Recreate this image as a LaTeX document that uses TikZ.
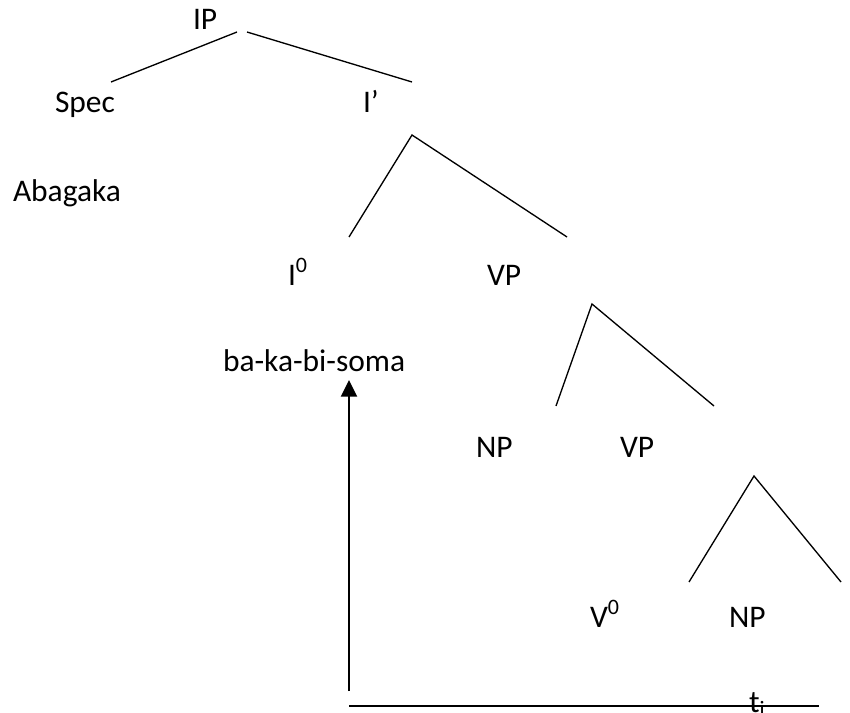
\documentclass[tikz,border=0pt]{standalone}
\usepackage{fontspec}
\setmainfont{Carlito}
\usetikzlibrary{arrows.meta}
\begin{document}
\begin{tikzpicture}[x=0.75pt,y=-0.75pt,
  lbl/.style={anchor=base west,inner sep=0pt,outer sep=0pt,font=\fontsize{23.6}{28}\selectfont},
  branch/.style={line width=1pt,line cap=butt,line join=miter},
  movearrow/.style={line width=1.5pt,-{Triangle[width=12pt,length=12.5pt]}}]
\useasboundingbox (0,0) rectangle (850,713);
% labels
\node[lbl] (ip) at (193,30) {IP};
\node[lbl] (spec) at (55,113) {Spec};
\node[lbl] (ibar) at (363,113) {I’};
\node[lbl] (abagaka) at (13,202) {Abagaka};
\node[lbl] (izero) at (288,285) {I\textsuperscript{0}};
\node[lbl] (vp1) at (487,285) {VP};
\node[lbl] (verb) at (223,371) {ba-ka-bi-soma};
\node[lbl] (np1) at (476,457) {NP};
\node[lbl] (vp2) at (620,457) {VP};
\node[lbl] (vzero) at (590,627) {V\textsuperscript{0}};
\node[lbl] (np2) at (729,627) {NP};
\node[lbl] (trace) at (749,712) {t\textsubscript{i}};
% branch points
\coordinate (ipL) at (237,32);
\coordinate (ipR) at (247,32);
\coordinate (specT) at (111,82);
\coordinate (ibarT) at (412,82);
\coordinate (ibarA) at (412,135);
\coordinate (izeroT) at (349,237);
\coordinate (vp1T) at (567,237);
\coordinate (vp1A) at (592,304);
\coordinate (np1T) at (556,406);
\coordinate (vp2T) at (714,406);
\coordinate (vp2A) at (754,476);
\coordinate (vzeroT) at (689,582);
\coordinate (np2T) at (841,582);
\coordinate (arrS) at (349,691);
\coordinate (arrE) at (349,380);
\coordinate (lineL) at (349,706);
\coordinate (lineR) at (819,706);
% branches
\draw[branch] (ipL) -- (specT);
\draw[branch] (ipR) -- (ibarT);
\draw[branch] (izeroT) -- (ibarA) -- (vp1T);
\draw[branch] (np1T) -- (vp1A) -- (vp2T);
\draw[branch] (vzeroT) -- (vp2A) -- (np2T);
% movement
\draw[movearrow] (arrS) -- (arrE);
\draw[line width=1.5pt] (lineL) -- (lineR);
\end{tikzpicture}
\end{document}
